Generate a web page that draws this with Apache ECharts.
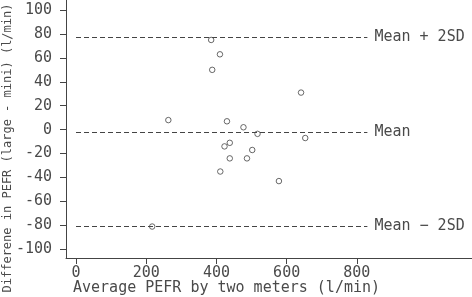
<!DOCTYPE html>
<html>
  <head>
    <title></title>
    <meta charset="UTF-8" />
    <script src="https://cdn.jsdelivr.net/npm/echarts@6/dist/echarts.min.js"></script>
    <style>
      html, body { margin: 0; padding: 0; background: #fff; }
    </style>
  </head>
  <body>
    <div id="main"></div>
    <script>
      const width = 472;
      const height = 297;
      const main = document.getElementById('main');
      main.style.width = `${width}px`;
      main.style.height = `${height}px`;

      // average PEFR of the two meters (x) and difference large - mini (y)
      const avgPEFR = [385, 410, 388, 641, 263, 430, 477, 517, 653, 438, 423, 502, 438, 487, 411, 578, 217];
      const diffPEFR = [75, 63, 50, 31, 8, 7, 2, -3.5, -7, -11, -14, -17, -24, -24, -35, -43, -81];

      const refNames = ['Mean + 2SD', 'Mean', 'Mean \u2212 2SD'];
      const refValues = [77, -2, -81];
      const refLineX = [0, 830];

      const xTicks = [0, 200, 400, 600, 800];
      const yTicks = [-100, -80, -60, -40, -20, 0, 20, 40, 60, 80, 100];

      const font = 'DejaVu Sans Mono';
      const ink = '#4a4a4a';

      const myChart = echarts.init(main);
      const option = {
        animation: false,
        grid: { left: 66, right: 0, top: 0, bottom: 39 },
        xAxis: {
          type: 'value',
          min: -28.5,
          max: 1128,
          splitLine: { show: false },
          axisLine: { onZero: false, lineStyle: { color: '#444', width: 1 } },
          axisTick: { customValues: xTicks, length: 6, lineStyle: { color: '#444' } },
          axisLabel: { customValues: xTicks, color: ink, fontFamily: font, fontSize: 15, margin: 8 },
          name: 'Average PEFR by two meters (l/min)',
          nameLocation: 'start',
          nameGap: 0,
          nameTextStyle: {
            color: ink, fontFamily: font, fontSize: 15,
            align: 'left', verticalAlign: 'top', padding: [23, 0, 0, 7]
          }
        },
        yAxis: {
          type: 'value',
          min: -107.3,
          max: 108.4,
          splitLine: { show: false },
          axisLine: { show: true, onZero: false, lineStyle: { color: '#444', width: 1 } },
          axisTick: { customValues: yTicks, length: 6, lineStyle: { color: '#444' } },
          axisLabel: { customValues: yTicks, color: ink, fontFamily: font, fontSize: 15, margin: 14 }
        },
        graphic: [{
          type: 'text',
          x: 8,
          y: 148,
          rotation: Math.PI / 2,
          style: {
            text: 'Differene in PEFR (large - mini) (l/min)',
            fontFamily: font, fontSize: 12, fill: ink,
            align: 'center', verticalAlign: 'middle'
          }
        }],
        series: [
          {
            type: 'scatter',
            symbol: 'circle',
            symbolSize: 5.5,
            itemStyle: { color: '#fff', borderColor: '#444', borderWidth: 1 },
            data: avgPEFR.map((x, i) => [x, diffPEFR[i]]),
            markLine: {
              silent: true,
              symbol: 'none',
              lineStyle: { color: '#444', width: 1, type: [5, 3] },
              label: {
                position: 'end', distance: 7, color: ink,
                fontFamily: font, fontSize: 15
              },
              data: refValues.map((v, i) => [
                { coord: [refLineX[0], v], name: refNames[i] },
                { coord: [refLineX[1], v] }
              ])
            }
          }
        ]
      };
      option.series[0].markLine.label.formatter = p => p.name;
      myChart.setOption(option);
    </script>
  </body>
</html>
